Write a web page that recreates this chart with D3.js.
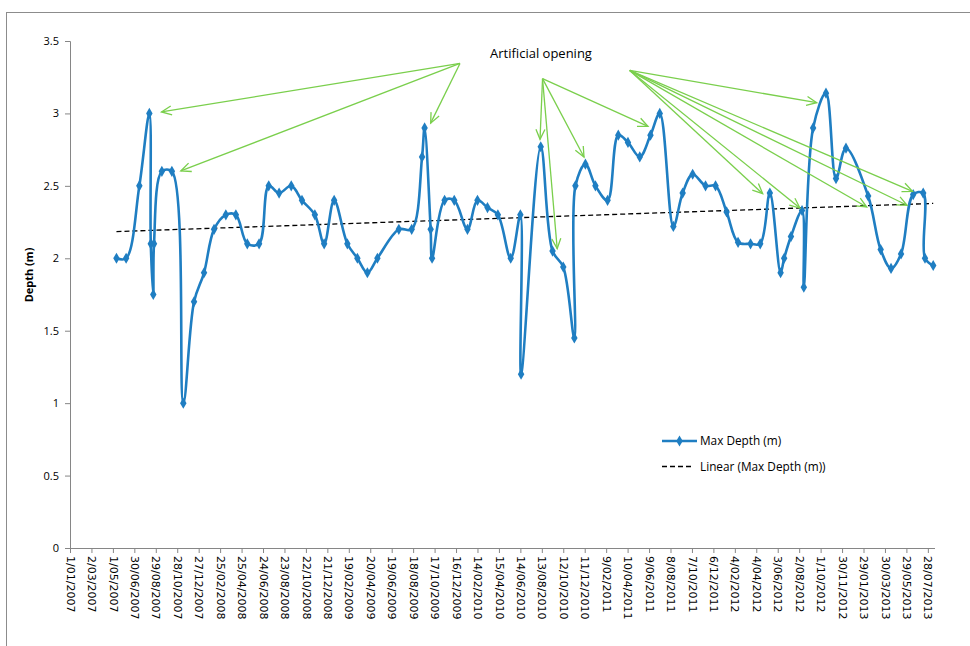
<!DOCTYPE html>
<html>
<head>
<meta charset="utf-8">
<script src="https://cdn.jsdelivr.net/npm/d3@7"></script>
<style>
  body { margin: 0; background: #ffffff; }
  svg { display: block; }
</style>
</head>
<body>
<div id="container"></div>
<script>
//sample dates (d/mm/yyyy) and max depth readings (m)
var dates = [
  "11/05/2007","07/06/2007","14/07/2007","11/08/2007","15/08/2007","22/08/2007","24/08/2007","15/09/2007",
  "13/10/2007","14/11/2007","14/12/2007","11/01/2008","08/02/2008","12/03/2008","09/04/2008","11/05/2008",
  "13/06/2008","10/07/2008","08/08/2008","11/09/2008","11/10/2008","16/11/2008","12/12/2008","09/01/2009",
  "15/02/2009","15/03/2009","12/04/2009","10/05/2009","09/07/2009","14/08/2009","12/09/2009","19/09/2009",
  "06/10/2009","10/10/2009","14/11/2009","11/12/2009","17/01/2010","14/02/2010","14/03/2010","12/04/2010",
  "18/05/2010","14/06/2010","16/06/2010","10/08/2010","12/09/2010","12/10/2010","12/11/2010","15/11/2010",
  "13/12/2010","10/01/2011","13/02/2011","15/03/2011","11/04/2011","14/05/2011","13/06/2011","09/07/2011",
  "16/08/2011","11/09/2011","09/10/2011","14/11/2011","12/12/2011","12/01/2012","13/02/2012","19/03/2012",
  "15/04/2012","12/05/2012","11/06/2012","21/06/2012","10/07/2012","10/08/2012","15/08/2012","10/09/2012",
  "16/10/2012","13/11/2012","11/12/2012","11/02/2013","18/03/2013","16/04/2013","14/05/2013","17/06/2013",
  "15/07/2013","20/07/2013","12/08/2013"
];
var maxDepth = [
  2.0, 2.0, 2.5, 3.0, 2.1, 1.75, 2.1, 2.6,
  2.6, 1.0, 1.7, 1.9, 2.2, 2.3, 2.3, 2.1,
  2.1, 2.5, 2.45, 2.5, 2.4, 2.3, 2.1, 2.4,
  2.1, 2.0, 1.9, 2.0, 2.2, 2.2, 2.7, 2.9,
  2.2, 2.0, 2.4, 2.4, 2.2, 2.4, 2.35, 2.3,
  2.0, 2.3, 1.2, 2.77, 2.05, 1.94, 1.45, 2.5,
  2.65, 2.5, 2.4, 2.85, 2.8, 2.7, 2.85, 3.0,
  2.22, 2.45, 2.58, 2.5, 2.5, 2.32, 2.11, 2.1,
  2.1, 2.45, 1.9, 2.0, 2.15, 2.33, 1.8, 2.9,
  3.14, 2.55, 2.76, 2.43, 2.06, 1.93, 2.03, 2.44,
  2.45, 2.0, 1.95
];

//x axis tick labels (every 60 days)
var xTickLabels = [
  "1/01/2007","2/03/2007","1/05/2007","30/06/2007","29/08/2007","28/10/2007","27/12/2007","25/02/2008",
  "25/04/2008","24/06/2008","23/08/2008","22/10/2008","21/12/2008","19/02/2009","20/04/2009","19/06/2009",
  "18/08/2009","17/10/2009","16/12/2009","14/02/2010","15/04/2010","14/06/2010","13/08/2010","12/10/2010",
  "11/12/2010","9/02/2011","10/04/2011","9/06/2011","8/08/2011","7/10/2011","6/12/2011","4/02/2012",
  "4/04/2012","3/06/2012","2/08/2012","1/10/2012","30/11/2012","29/01/2013","30/03/2013","29/05/2013",
  "28/07/2013"
];
var yTicks = [0, 0.5, 1, 1.5, 2, 2.5, 3, 3.5];

//"Artificial opening" annotation: arrow origins and tips in data space
var arrowOrigins = [["27/12/2009", 3.345], ["15/08/2010", 3.24], ["16/04/2011", 3.297]];
var arrowTips = [
  [0, "14/09/2007", 3.01], [0, "07/11/2007", 2.603], [0, "06/10/2009", 2.933],
  [1, "08/08/2010", 2.821], [1, "25/09/2010", 2.067], [1, "09/12/2010", 2.699], [1, "06/06/2011", 2.91],
  [2, "20/09/2012", 3.074], [2, "22/04/2012", 2.446], [2, "04/08/2012", 2.347],
  [2, "07/02/2013", 2.354], [2, "31/05/2013", 2.366], [2, "15/06/2013", 2.462]
];

//chart dimensions + margins
var width = 970, height = 646;
var margin = {top: 41, right: 35, bottom: 98, left: 70};
var plotW = width - margin.left - margin.right;
var plotH = height - margin.top - margin.bottom;

var blue = "#1f7ec2";
var green = "#7acf4c";
var axisGrey = "#868686";

var parse = d3.timeParse("%d/%m/%Y");

var points = dates.map(function(d, i) { return {date: parse(d), value: maxDepth[i]}; });

var svg = d3.select("#container")
  .append("svg")
  .attr("width", width)
  .attr("height", height);

//chart area border (excel frame, cut at right/bottom)
svg.append("rect")
  .attr("x", 6.5).attr("y", 12.5)
  .attr("width", 1000).attr("height", 700)
  .attr("fill", "none")
  .attr("stroke", "#8c8c8c")
  .attr("stroke-width", 1);

var g = svg.append("g")
  .attr("transform", "translate(" + margin.left + "," + margin.top + ")");

//scales
var x = d3.scaleTime()
  .domain([parse("1/01/2007"), parse("17/08/2013")])
  .range([0, plotW]);
var y = d3.scaleLinear()
  .domain([0, 3.5])
  .range([plotH, 0]);

//y axis
var yAxis = g.append("g")
  .call(d3.axisLeft(y).tickValues(yTicks).tickSize(5).tickPadding(6).tickFormat(d3.format("")));
yAxis.select(".domain").attr("stroke", axisGrey);
yAxis.selectAll(".tick line").attr("stroke", axisGrey);
yAxis.selectAll("text")
  .attr("fill", "#000")
  .style("font-family", "'Open Sans', sans-serif")
  .style("font-size", "11px");

//x axis
var xAxis = g.append("g")
  .attr("transform", "translate(0," + plotH + ")")
  .call(d3.axisBottom(x).tickValues(xTickLabels.map(parse)).tickSize(5).tickFormat(d3.timeFormat("%-d/%m/%Y")));
xAxis.select(".domain").attr("stroke", axisGrey).attr("d", "M0.5,0.5H" + plotW);
xAxis.selectAll(".tick line").attr("stroke", axisGrey);
xAxis.selectAll("text")
  .attr("fill", "#000")
  .attr("y", 0)
  .attr("x", 0)
  .attr("dy", "0.35em")
  .attr("text-anchor", "start")
  .attr("transform", "translate(0,8) rotate(90)")
  .style("font-family", "'DejaVu Sans', sans-serif")
  .style("font-size", "11px");

//y axis title
g.append("text")
  .attr("transform", "translate(-37," + (275 - margin.top) + ") rotate(-90)")
  .attr("text-anchor", "middle")
  .style("font-family", "'Open Sans', sans-serif")
  .style("font-size", "11px")
  .style("font-weight", "bold")
  .text("Depth (m)");

//linear trend (least squares on the series)
var tx = points.map(function(d) { return d.date.getTime(); });
var mx = d3.mean(tx), my = d3.mean(maxDepth);
var slope = d3.sum(tx, function(t, i) { return (t - mx) * (maxDepth[i] - my); }) /
            d3.sum(tx, function(t) { return (t - mx) * (t - mx); });
var intercept = my - slope * mx;
var trendEnds = [points[0].date, points[points.length - 1].date];

g.append("line")
  .attr("x1", x(trendEnds[0]))
  .attr("y1", y(intercept + slope * trendEnds[0].getTime()))
  .attr("x2", x(trendEnds[1]))
  .attr("y2", y(intercept + slope * trendEnds[1].getTime()))
  .attr("stroke", "#000")
  .attr("stroke-width", 1.3)
  .attr("stroke-dasharray", "5,3");

//smoothed series line
var line = d3.line()
  .x(function(d) { return x(d.date); })
  .y(function(d) { return y(d.value); })
  .curve(d3.curveCatmullRom.alpha(0.5));

g.append("path")
  .datum(points)
  .attr("fill", "none")
  .attr("stroke", blue)
  .attr("stroke-width", 2.6)
  .attr("d", line);

//diamond markers
var diamond = d3.symbol().type(d3.symbolDiamond).size(36);
g.append("g")
  .selectAll("path")
  .data(points)
  .enter()
  .append("path")
  .attr("transform", function(d) { return "translate(" + x(d.date) + "," + y(d.value) + ")"; })
  .attr("d", diamond)
  .attr("fill", blue);

//annotation arrows
var annot = g.append("g")
  .attr("stroke", green)
  .attr("stroke-width", 1.3)
  .attr("fill", "none");

arrowTips.forEach(function(a) {
  var o = arrowOrigins[a[0]];
  var x0 = x(parse(o[0])), y0 = y(o[1]);
  var x1 = x(parse(a[1])), y1 = y(a[2]);
  var ang = Math.atan2(y1 - y0, x1 - x0);
  var len = 11, spread = 0.42;
  annot.append("line")
    .attr("x1", x0).attr("y1", y0)
    .attr("x2", x1).attr("y2", y1);
  annot.append("path")
    .attr("d", "M" + (x1 - len * Math.cos(ang - spread)) + "," + (y1 - len * Math.sin(ang - spread)) +
               "L" + x1 + "," + y1 +
               "L" + (x1 - len * Math.cos(ang + spread)) + "," + (y1 - len * Math.sin(ang + spread)));
});

//annotation label
g.append("text")
  .attr("x", 541 - margin.left)
  .attr("y", 58 - margin.top)
  .attr("text-anchor", "middle")
  .style("font-family", "'Open Sans', sans-serif")
  .style("font-size", "13px")
  .text("Artificial opening");

//legend
var legend = g.append("g")
  .attr("transform", "translate(" + (662 - margin.left) + "," + (441 - margin.top) + ")");
legend.append("line")
  .attr("x1", 0).attr("x2", 35).attr("y1", 0).attr("y2", 0)
  .attr("stroke", blue).attr("stroke-width", 2.6);
legend.append("path")
  .attr("transform", "translate(17.5,0)")
  .attr("d", diamond)
  .attr("fill", blue);
legend.append("text")
  .attr("x", 38).attr("y", 0).attr("dy", "0.35em")
  .style("font-family", "'Open Sans', sans-serif")
  .style("font-size", "11.8px")
  .text("Max Depth (m)");
legend.append("line")
  .attr("x1", 0).attr("x2", 31).attr("y1", 25.5).attr("y2", 25.5)
  .attr("stroke", "#000").attr("stroke-width", 1.3)
  .attr("stroke-dasharray", "5,3");
legend.append("text")
  .attr("x", 38).attr("y", 25.5).attr("dy", "0.35em")
  .style("font-family", "'Open Sans', sans-serif")
  .style("font-size", "11.8px")
  .text("Linear (Max Depth (m))");
</script>
</body>
</html>
